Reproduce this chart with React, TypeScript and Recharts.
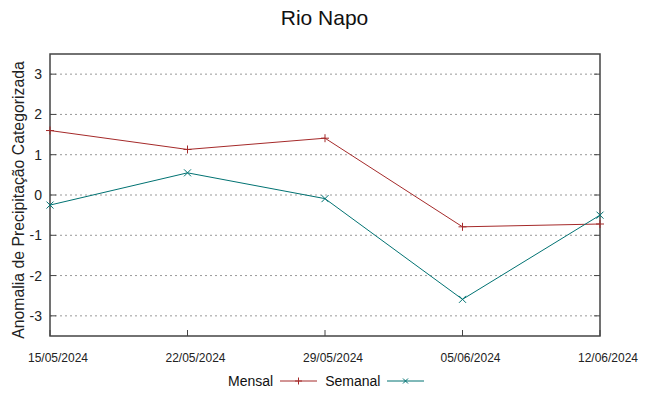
import React from "react";
import {
  CartesianGrid,
  Line,
  LineChart,
  ReferenceArea,
  XAxis,
  YAxis,
} from "recharts";

const dates = ["15/05/2024", "22/05/2024", "29/05/2024", "05/06/2024", "12/06/2024"];
const mensal = [1.6, 1.13, 1.41, -0.79, -0.72];
const semanal = [-0.25, 0.55, -0.09, -2.59, -0.5];
const yTicks = [-3, -2, -1, 0, 1, 2, 3];

const MENSAL_COLOR = "#a52a2a";
const SEMANAL_COLOR = "#007272";
const FONT = "'Liberation Sans', Arial, sans-serif";

const data = dates.map((date, i) => ({
  date,
  Mensal: mensal[i],
  Semanal: semanal[i],
}));

const PLOT_LEFT = 50;
const PLOT_RIGHT = 600;
const PLOT_BOTTOM = 336;

function PlusDot(props: any) {
  const { cx, cy } = props;
  if (cx == null || cy == null) return null;
  return (
    <g stroke={MENSAL_COLOR} strokeWidth={1}>
      <line x1={cx - 4} y1={cy} x2={cx + 4} y2={cy} />
      <line x1={cx} y1={cy - 4} x2={cx} y2={cy + 4} />
    </g>
  );
}

function CrossDot(props: any) {
  const { cx, cy } = props;
  if (cx == null || cy == null) return null;
  return (
    <g stroke={SEMANAL_COLOR} strokeWidth={1}>
      <line x1={cx - 3.5} y1={cy - 3.5} x2={cx + 3.5} y2={cy + 3.5} />
      <line x1={cx - 3.5} y1={cy + 3.5} x2={cx + 3.5} y2={cy - 3.5} />
    </g>
  );
}

function YTick(props: any) {
  const { x, y, payload } = props;
  return (
    <g>
      <text x={x} y={y} dy={5} textAnchor="end" fontSize={14} fill="#222" fontFamily={FONT}>
        {payload.value}
      </text>
      <line x1={PLOT_LEFT} y1={y} x2={PLOT_LEFT + 6} y2={y} stroke="#444" />
      <line x1={PLOT_RIGHT - 6} y1={y} x2={PLOT_RIGHT} y2={y} stroke="#444" />
    </g>
  );
}

function XTick(props: any) {
  const { x, payload } = props;
  return (
    <g>
      <text x={x + 8} y={362} textAnchor="middle" fontSize={12} fill="#222" fontFamily={FONT}>
        {payload.value}
      </text>
      <line x1={x} y1={PLOT_BOTTOM} x2={x} y2={PLOT_BOTTOM - 6} stroke="#444" />
    </g>
  );
}

function LegendItem({ name, color, marker }: { name: string; color: string; marker: "plus" | "cross" }) {
  return (
    <span style={{ display: "inline-flex", alignItems: "center", marginRight: 8 }}>
      <span style={{ marginRight: 7 }}>{name}</span>
      <svg width={37} height={10}>
        <line x1={0} y1={5} x2={37} y2={5} stroke={color} />
        {marker === "plus" ? (
          <g stroke={color}>
            <line x1={15} y1={5} x2={22} y2={5} />
            <line x1={18.5} y1={1.5} x2={18.5} y2={8.5} />
          </g>
        ) : (
          <g stroke={color}>
            <line x1={16} y1={2.5} x2={21} y2={7.5} />
            <line x1={16} y1={7.5} x2={21} y2={2.5} />
          </g>
        )}
      </svg>
    </span>
  );
}

export default function App() {
  return (
    <div
      style={{
        position: "absolute",
        left: 0,
        top: 0,
        width: 649,
        height: 396,
        background: "#fff",
        fontFamily: FONT,
      }}
    >
      <div
        style={{
          position: "absolute",
          top: 6,
          left: 0,
          width: 649,
          textAlign: "center",
          fontSize: 21,
          color: "#111",
        }}
      >
        Rio Napo
      </div>
      <LineChart
        width={649}
        height={396}
        data={data}
        margin={{ top: 54, right: 49, left: 0, bottom: 0 }}
      >
        <CartesianGrid
          vertical={false}
          stroke="#999"
          strokeDasharray="2 3"
          horizontalValues={yTicks}
        />
        <XAxis
          dataKey="date"
          height={60}
          axisLine={false}
          tickLine={false}
          tickSize={0}
          tickMargin={0}
          tick={<XTick />}
          interval={0}
        />
        <YAxis
          domain={[-3.5, 3.5]}
          ticks={yTicks}
          width={50}
          axisLine={false}
          tickLine={false}
          tickSize={0}
          tickMargin={8}
          tick={<YTick />}
          label={{
            content: () => (
              <text
                transform="translate(24,200) rotate(-90)"
                textAnchor="middle"
                fontSize={15.8}
                fill="#222"
                fontFamily={FONT}
              >
                Anomalia de Precipitação Categorizada
              </text>
            ),
          }}
        />
        <ReferenceArea
          x1={dates[0]}
          x2={dates[dates.length - 1]}
          y1={-3.5}
          y2={3.5}
          fill="none"
          stroke="#444"
          strokeWidth={1.5}
          fillOpacity={0}
        />
        <Line
          dataKey="Mensal"
          stroke={MENSAL_COLOR}
          strokeWidth={1}
          dot={<PlusDot />}
          isAnimationActive={false}
        />
        <Line
          dataKey="Semanal"
          stroke={SEMANAL_COLOR}
          strokeWidth={1}
          dot={<CrossDot />}
          isAnimationActive={false}
        />
      </LineChart>
      <div
        style={{
          position: "absolute",
          top: 373,
          left: 228,
          display: "flex",
          fontSize: 14,
          color: "#111",
        }}
      >
        <LegendItem name="Mensal" color={MENSAL_COLOR} marker="plus" />
        <LegendItem name="Semanal" color={SEMANAL_COLOR} marker="cross" />
      </div>
    </div>
  );
}
